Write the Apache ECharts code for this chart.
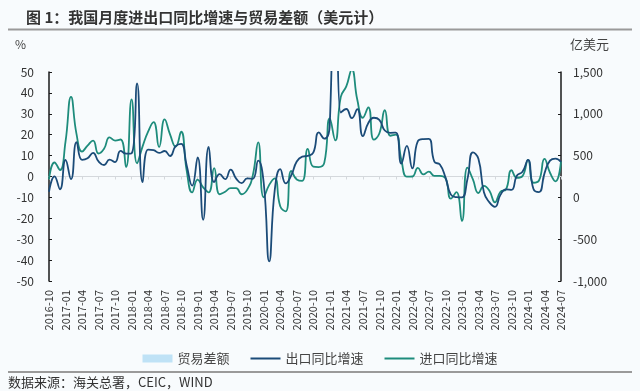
<!DOCTYPE html>
<html><head><meta charset="utf-8">
<script src="https://cdn.jsdelivr.net/npm/echarts@6/dist/echarts.min.js"></script>
<style>html,body{margin:0;padding:0;background:#f8fbfd}#c{width:640px;height:391px}</style>
</head><body><div id="c"></div>
<script>
const months = [
'2016-10','2016-11','2016-12',
'2017-01','2017-02','2017-03','2017-04','2017-05','2017-06','2017-07','2017-08','2017-09','2017-10','2017-11','2017-12',
'2018-01','2018-02','2018-03','2018-04','2018-05','2018-06','2018-07','2018-08','2018-09','2018-10','2018-11','2018-12',
'2019-01','2019-02','2019-03','2019-04','2019-05','2019-06','2019-07','2019-08','2019-09','2019-10','2019-11','2019-12',
'2020-01','2020-02','2020-03','2020-04','2020-05','2020-06','2020-07','2020-08','2020-09','2020-10','2020-11','2020-12',
'2021-01','2021-02','2021-03','2021-04','2021-05','2021-06','2021-07','2021-08','2021-09','2021-10','2021-11','2021-12',
'2022-01','2022-02','2022-03','2022-04','2022-05','2022-06','2022-07','2022-08','2022-09','2022-10','2022-11','2022-12',
'2023-01','2023-02','2023-03','2023-04','2023-05','2023-06','2023-07','2023-08','2023-09','2023-10','2023-11','2023-12',
'2024-01','2024-02','2024-03','2024-04','2024-05','2024-06','2024-07'];

const exportYoY = [
-7.3, 0.1, -6.1,
7.9, -1.3, 16.4, 8.0, 8.7, 11.3, 7.2, 5.5, 8.1, 6.9, 12.3, 10.9,
11.1, 44.5, -2.7, 12.9, 12.6, 11.3, 12.2, 9.8, 14.5, 15.6, 5.4, -4.4,
9.1, -20.7, 14.2, -2.7, 1.1, -1.3, 3.3, -1.0, -3.2, -0.9, -1.1, 7.6,
-3.0, -40.6, -6.6, 3.5, -3.3, 0.5, 7.2, 9.5, 9.9, 11.4, 21.1, 18.1,
24.7, 154.9, 30.6, 32.3, 27.9, 32.2, 19.3, 25.6, 28.1, 27.1, 22.0, 20.9,
21.0, 6.2, 14.7, 3.9, 16.9, 17.9, 18.0, 7.1, 5.7, -0.3, -8.7, -9.9,
-10.0, -1.3, 11.5, 8.5, -7.5, -12.4, -14.5, -8.8, -6.2, -6.4, 0.5, 2.3,
8.0, -6.0, -7.5, 1.5, 7.6, 8.6, 7.0];

const importYoY = [
-1.4, 6.7, 3.1,
16.7, 38.1, 20.3, 11.9, 14.8, 17.2, 11.0, 13.3, 18.7, 17.2, 17.7, 4.5,
36.9, 6.3, 14.4, 21.5, 26.0, 14.1, 27.3, 20.0, 14.3, 21.4, 3.0, -7.6,
-1.5, -5.2, -7.6, 4.0, -8.5, -7.3, -5.6, -5.6, -8.5, -6.4, 0.3, 16.3,
-10.0, -4.0, -0.9, -14.2, -16.7, 2.7, -1.4, -2.1, 13.2, 4.7, 4.5, 6.5,
27.8, 17.3, 38.1, 43.1, 51.1, 36.7, 28.1, 33.1, 17.6, 20.6, 31.7, 19.5,
20.0, 8.0, -0.1, 0.0, 4.1, 1.0, 2.3, 0.3, 0.3, -0.7, -10.6, -7.5,
-21.3, 4.2, -1.4, -7.9, -4.5, -6.8, -12.4, -7.3, -6.2, 3.0, -0.6, 0.2,
8.0, -3.0, -1.9, 8.4, 1.8, -2.3, 7.2];

const tradeBalance = [
490, 446, 407,
513, -91, 239, 380, 409, 427, 467, 419, 284, 381, 402, 547,
203, 337, -50, 287, 250, 416, 280, 279, 317, 340, 447, 570,
391, 41, 326, 138, 417, 510, 450, 348, 397, 428, 387, 467,
75, -146, 199, 453, 629, 464, 623, 589, 370, 584, 754, 781,
630, 402, 138, 428, 455, 515, 566, 583, 667, 845, 717, 944,
850, 306, 473, 511, 787, 979, 1013, 793, 847, 852, 698, 780,
780, 389, 882, 905, 659, 706, 806, 683, 777, 566, 684, 753,
850, 401, 585, 723, 825, 990, 846];

const seriesNames = ['贸易差额', '出口同比增速', '进口同比增速'];
const leftTicks = {min: -50, max: 50, interval: 10};
const rightTicks = {min: -1000, max: 1500, interval: 500};

const FONT = '"Noto Sans CJK SC", "Noto Sans", sans-serif';
const EXPORT_COLOR = '#1b4b78';
const IMPORT_COLOR = '#1e8c7c';
const chart = echarts.init(document.getElementById('c'), null, {renderer: 'canvas'});
chart.setOption({
  backgroundColor: '#f8fbfd',
  animation: false,
  textStyle: {fontFamily: FONT},
  grid: {left: 49, right: 79, top: 72, bottom: 110, containLabel: false},
  graphic: [
    {type: 'text', x: 26, y: 17, style: {text: '图 1：我国月度进出口同比增速与贸易差额（美元计）', fontSize: 15, fontFamily: FONT, fontWeight: 'bold', fill: '#333', verticalAlign: 'middle', align: 'left'}},
    {type: 'rect', shape: {x: 8, y: 28.5, width: 624, height: 2}, style: {fill: '#9a9a9a'}},
    {type: 'text', x: 15, y: 44, style: {text: '%', fontSize: 12, fontFamily: FONT, fill: '#444', verticalAlign: 'middle'}},
    {type: 'text', x: 570, y: 44, style: {text: '亿美元', fontSize: 13, fontFamily: FONT, fill: '#444', verticalAlign: 'middle'}},
    {type: 'rect', shape: {x: 8, y: 371, width: 624, height: 2}, style: {fill: '#9a9a9a'}},
    {type: 'text', x: 8, y: 382, style: {text: '数据来源：海关总署，CEIC，WIND', fontSize: 13, fontFamily: FONT, fill: '#333', verticalAlign: 'middle'}}
  ],
  legend: {
    top: 347, left: 'center', itemGap: 20, itemWidth: 30, itemHeight: 8,
    textStyle: {fontSize: 13, color: '#444', fontFamily: FONT},
    data: [
      {name: seriesNames[0], icon: 'rect', itemStyle: {color: '#bfe2f6', opacity: 1}},
      {name: seriesNames[1], itemStyle: {opacity: 0}},
      {name: seriesNames[2], itemStyle: {opacity: 0}}
    ]
  },
  xAxis: [
    {
      type: 'category', data: months, boundaryGap: false, position: 'bottom',
      axisLine: {show: false, onZero: false}, axisTick: {show: false},
      axisLabel: {rotate: 90, interval: 2, fontSize: 11, color: '#333', margin: 9, fontFamily: FONT},
      splitLine: {show: false}
    },
    {
      type: 'category', data: months, boundaryGap: false, position: 'bottom',
      axisLine: {show: true, onZero: true, lineStyle: {color: '#d4d8dc', width: 1}},
      axisTick: {show: true, interval: 2, length: 3, lineStyle: {color: '#d4d8dc'}},
      axisLabel: {show: false}, splitLine: {show: false}
    }
  ],
  yAxis: [
    {
      type: 'value', position: 'left', min: leftTicks.min, max: leftTicks.max, interval: leftTicks.interval,
      axisLine: {show: true, lineStyle: {color: '#1a1a1a', width: 1.5}},
      axisTick: {show: true, inside: true, length: 3, lineStyle: {color: '#1a1a1a'}},
      axisLabel: {fontSize: 12, color: '#333', margin: 15, fontFamily: FONT},
      splitLine: {show: false}
    },
    {
      type: 'value', position: 'right', min: rightTicks.min, max: rightTicks.max, interval: rightTicks.interval,
      axisLine: {show: true, lineStyle: {color: '#1a1a1a', width: 1.5}},
      axisTick: {show: true, inside: true, length: 3, lineStyle: {color: '#1a1a1a'}},
      axisLabel: {fontSize: 12, color: '#333', margin: 12, fontFamily: FONT,
        formatter: v => v.toLocaleString('en-US')},
      splitLine: {show: false}
    }
  ],
  series: [
    {name: seriesNames[0], type: 'bar', xAxisIndex: 0, yAxisIndex: 1, data: tradeBalance,
      barWidth: 3, itemStyle: {color: '#bfe2f6', opacity: 0}, z: 1},
    {name: seriesNames[1], type: 'line', xAxisIndex: 0, yAxisIndex: 0, data: exportYoY,
      smooth: 0.5, symbol: 'none', showSymbol: false, clip: true,
      lineStyle: {color: EXPORT_COLOR, width: 1.8}, itemStyle: {color: EXPORT_COLOR}, z: 3},
    {name: seriesNames[2], type: 'line', xAxisIndex: 0, yAxisIndex: 0, data: importYoY,
      smooth: 0.5, symbol: 'none', showSymbol: false, clip: true,
      lineStyle: {color: IMPORT_COLOR, width: 1.8}, itemStyle: {color: IMPORT_COLOR}, z: 2}
  ]
});
</script></body></html>
